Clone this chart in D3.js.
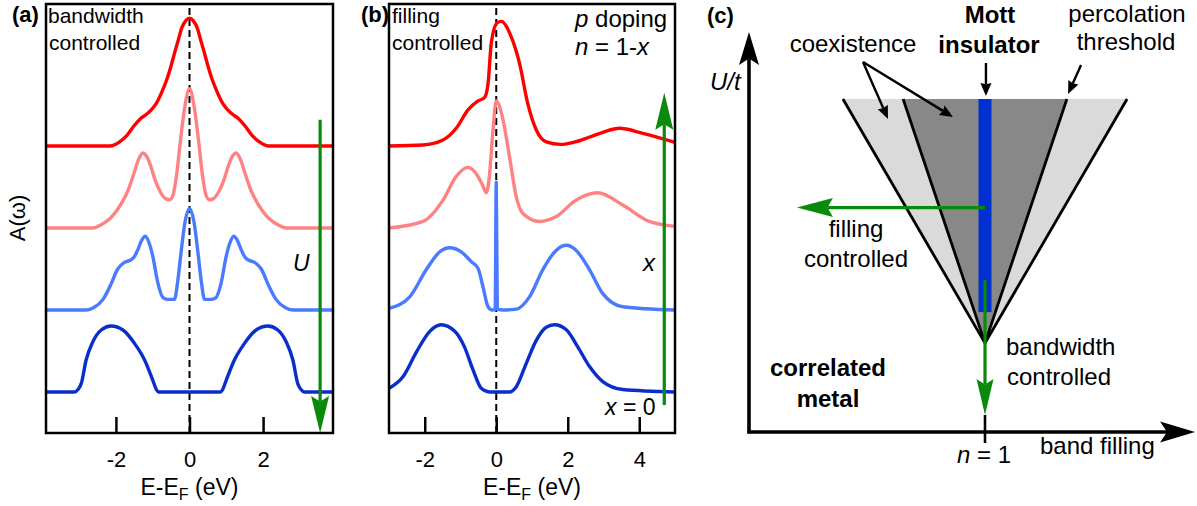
<!DOCTYPE html>
<html><head><meta charset="utf-8">
<script src="https://cdn.jsdelivr.net/npm/d3@7"></script>
<style>
body{margin:0;background:#fff}
svg{display:block}
text{font-family:"Liberation Sans",Arial,Helvetica,sans-serif;fill:#000}
</style>
</head><body>
<svg id="chart" width="1197" height="506"></svg>
<script>
// ---------------- DATA ----------------
const energyTicksA = [-2, 0, 2];
const energyTicksB = [-2, 0, 2, 4];
const spectrumOffsets = [3.5, 2.5, 1.5, 0.5];   // vertical stacking of the 4 spectra

// panel (a): bandwidth controlled, spectra [E (eV), A(ω)]
const aMetal = [[-3.9,0],[-2.15,0],[-1.9,0.05],[-1.7,0.13],[-1.5,0.25],[-1.34,0.33],[-1.16,0.39],[-1.0,0.46],[-0.89,0.53],[-0.75,0.66],[-0.61,0.82],[-0.5,0.98],[-0.39,1.16],[-0.3,1.3],[-0.21,1.44],[-0.1,1.53],[0,1.56],
  [0.1,1.53],[0.21,1.44],[0.3,1.3],[0.39,1.16],[0.5,0.98],[0.61,0.82],[0.75,0.66],[0.89,0.53],[1.0,0.46],[1.16,0.39],[1.34,0.33],[1.5,0.25],[1.7,0.13],[1.9,0.05],[2.15,0],[3.9,0]];
const aCorrelated = [[-3.9,0],[-2.63,0],[-2.4,0.04],[-2.2,0.1],[-2.08,0.155],[-1.85,0.3],[-1.67,0.46],[-1.5,0.68],[-1.38,0.84],[-1.27,0.915],[-1.16,0.87],[-1.05,0.75],[-0.93,0.58],[-0.78,0.43],[-0.64,0.355],[-0.54,0.345],[-0.45,0.4],[-0.35,0.65],[-0.25,1.05],[-0.12,1.5],[0,1.70],
  [0.12,1.5],[0.25,1.05],[0.35,0.65],[0.45,0.4],[0.54,0.345],[0.64,0.355],[0.78,0.43],[0.93,0.58],[1.05,0.75],[1.16,0.87],[1.27,0.915],[1.38,0.84],[1.5,0.68],[1.67,0.46],[1.85,0.3],[2.08,0.155],[2.2,0.1],[2.4,0.04],[2.63,0],[3.9,0]];
const aNearMott = [[-3.9,0],[-2.8,0],[-2.6,0.03],[-2.35,0.13],[-2.15,0.3],[-1.95,0.5],[-1.77,0.58],[-1.6,0.61],[-1.5,0.65],[-1.4,0.74],[-1.3,0.85],[-1.2,0.9],[-1.1,0.82],[-1.0,0.66],[-0.86,0.33],[-0.72,0.15],[-0.6,0.13],[-0.41,0.13],[-0.32,0.35],[-0.23,0.7],[-0.12,1.08],[0,1.24],
  [0.12,1.08],[0.23,0.7],[0.32,0.35],[0.41,0.13],[0.6,0.13],[0.72,0.15],[0.86,0.33],[1.0,0.66],[1.1,0.82],[1.2,0.9],[1.3,0.85],[1.4,0.74],[1.5,0.65],[1.6,0.61],[1.77,0.58],[1.95,0.5],[2.15,0.3],[2.35,0.13],[2.6,0.03],[2.8,0],[3.9,0]];
const aInsulator = [[-3.9,0],[-3.12,0],[-3.03,0.03],[-2.94,0.105],[-2.81,0.39],[-2.63,0.61],[-2.4,0.756],[-2.13,0.805],[-1.81,0.756],[-1.49,0.59],[-1.22,0.39],[-1.0,0.146],[-0.9,0.03],[-0.84,0],
  [0.84,0],[0.9,0.03],[1.0,0.146],[1.22,0.39],[1.49,0.59],[1.81,0.756],[2.13,0.805],[2.4,0.756],[2.63,0.61],[2.81,0.39],[2.94,0.105],[3.03,0.03],[3.12,0],[3.9,0]];

// panel (b): filling controlled (p doping)
const bDopedHigh = [[-3,0],[-2.05,0.012],[-1.49,0.073],[-1.12,0.216],[-0.79,0.44],[-0.51,0.55],[-0.33,0.59],[-0.23,0.76],[-0.14,1.25],[0.02,1.5],[0.14,1.52],[0.42,1.33],[0.65,1.01],[0.88,0.52],[1.12,0.195],[1.4,0.05],[1.8,0.02],[2.2,0.05],[2.61,0.11],[3.0,0.17],[3.44,0.216],[4.1,0.155],[5,0.045]];
const bDopedMid = [[-3,0],[-2.05,0.08],[-1.49,0.34],[-1.12,0.63],[-0.79,0.74],[-0.54,0.65],[-0.38,0.52],[-0.28,0.43],[-0.2,0.6],[-0.09,1.2],[0,1.55],[0.19,1.32],[0.37,0.87],[0.56,0.38],[0.74,0.18],[1.21,0.08],[1.68,0.14],[2.23,0.34],[2.84,0.43],[3.54,0.28],[4.28,0.08],[5,0.02]];
const bDopedLow = [[-3,0.02],[-2.42,0.16],[-1.96,0.49],[-1.58,0.71],[-1.3,0.76],[-0.98,0.71],[-0.7,0.59],[-0.51,0.51],[-0.37,0.28],[-0.23,0.04],[-0.11,0],[-0.03,0.01],[0,1.56],[0.03,0.01],[0.19,0],[0.56,0.01],[0.93,0.16],[1.3,0.49],[1.68,0.73],[1.96,0.79],[2.23,0.73],[2.61,0.49],[2.98,0.2],[3.54,0.04],[5,0]];
const bUndoped = [[-3,0.045],[-2.61,0.186],[-2.23,0.49],[-1.86,0.74],[-1.54,0.82],[-1.16,0.74],[-0.89,0.55],[-0.65,0.27],[-0.42,0.045],[-0.19,0],[0.37,0],[0.56,0.065],[0.84,0.35],[1.12,0.63],[1.4,0.79],[1.63,0.82],[1.96,0.76],[2.28,0.55],[2.61,0.31],[2.98,0.126],[3.54,0.03],[5,0]];

// panel (c): phase diagram in (band filling n, U/t) units
const phaseTopU = 1.0;
const apexU = 0.267;
const percolationHalfWidth = 0.602;
const coexistenceHalfWidth = 0.347;
const mottHalfWidth = 0.0275;
const mottBottomU = 0.36;

// ---------------- STYLES ----------------
const curveColors = ["#ff0000", "#ff8282", "#4a7bff", "#0a2ecc"];
const green = "#0a8a0a";
const svg = d3.select("#chart");
const FONT = '"Liberation Sans",Arial,Helvetica,sans-serif';

function drawArrow(g, p1, p2, o) {
  const [x1,y1] = p1, [x2,y2] = p2;
  const dx = x2-x1, dy = y2-y1, L = Math.hypot(dx,dy);
  const ux = dx/L, uy = dy/L, px = -uy, py = ux;
  const len = o.len, w = o.wid/2, notch = o.notch == null ? 0.15 : o.notch;
  const bx = x2-ux*len, by = y2-uy*len;
  const nx = x2-ux*len*(1-notch), ny = y2-uy*len*(1-notch);
  g.append("line").attr("x1",x1).attr("y1",y1).attr("x2",nx).attr("y2",ny)
    .attr("stroke",o.color).attr("stroke-width",o.sw);
  g.append("path")
    .attr("d",`M${x2},${y2}L${bx+px*w},${by+py*w}L${nx},${ny}L${bx-px*w},${by-py*w}Z`)
    .attr("fill",o.color);
}

function spectraPanel(xRange, xDomain, ticks, series, arrowSpec) {
  const x = d3.scaleLinear().domain(xDomain).range(xRange);
  const y = d3.scaleLinear().domain([0, 5.232]).range([433, 4]);
  const g = svg.append("g");
  g.append("line").attr("x1",x(0)).attr("x2",x(0)).attr("y1",y(0)).attr("y2",y(5.232))
    .attr("stroke","#000").attr("stroke-width",2).attr("stroke-dasharray","7,4");
  series.forEach((s, i) => {
    const off = spectrumOffsets[i];
    const line = d3.line().x(d => x(d[0])).y(d => y(d[1] + off)).curve(d3.curveMonotoneX);
    g.append("path").datum(s).attr("d", line).attr("fill","none")
      .attr("stroke", curveColors[i]).attr("stroke-width", 3.4).attr("stroke-linejoin","round");
  });
  const ax = g.append("g").attr("transform",`translate(0,${y(0)})`)
    .call(d3.axisBottom(x).tickValues(ticks).tickSizeInner(-16).tickSizeOuter(0).tickPadding(18).tickFormat(d => String(d)));
  ax.select(".domain").remove();
  ax.selectAll(".tick line").attr("stroke","#000").attr("stroke-width",2.5);
  ax.selectAll(".tick text").attr("font-family",FONT).attr("font-size",22).attr("fill","#000");
  g.append("rect").attr("x",xRange[0]).attr("y",y(5.232)).attr("width",xRange[1]-xRange[0]).attr("height",y(0)-y(5.232))
    .attr("fill","none").attr("stroke","#000").attr("stroke-width",2.5);
  drawArrow(g, [x(arrowSpec.e), y(arrowSpec.from)], [x(arrowSpec.e), y(arrowSpec.to)], {len:37, wid:18, color:green, sw:3.2});
  const t = g.append("text").attr("x",(xRange[0]+xRange[1])/2).attr("y",495).attr("text-anchor","middle").attr("font-size",23);
  t.append("tspan").text("E-E");
  t.append("tspan").attr("font-size",16).attr("dy",5).text("F");
  t.append("tspan").attr("dy",-5).text(" (eV)");
  return {g, x, y};
}

// ---------------- PANEL (a) ----------------
const A = spectraPanel([46,333], [-3.9,3.9], energyTicksA, [aMetal,aCorrelated,aNearMott,aInsulator], {e:3.55, from:3.82, to:0});
A.g.append("text").attr("x",12).attr("y",22).attr("font-size",22).attr("font-weight","bold").text("(a)");
A.g.append("text").attr("x",48).attr("y",23).attr("font-size",21).text("bandwidth");
A.g.append("text").attr("x",49).attr("y",50).attr("font-size",21).text("controlled");
A.g.append("text").attr("x",293).attr("y",271).attr("font-size",23).attr("font-style","italic").text("U");
A.g.append("text").attr("transform","translate(25,218) rotate(-90)").attr("text-anchor","middle").attr("font-size",22).text("A(ω)");

// ---------------- PANEL (b) ----------------
const B = spectraPanel([389,675], [-3,5], energyTicksB, [bDopedHigh,bDopedMid,bDopedLow,bUndoped], {e:4.7, from:0.34, to:4.15});
B.g.append("text").attr("x",361).attr("y",22).attr("font-size",22).attr("font-weight","bold").text("(b)");
B.g.append("text").attr("x",392).attr("y",23).attr("font-size",21).text("filling");
B.g.append("text").attr("x",392).attr("y",50).attr("font-size",21).text("controlled");
const pd = B.g.append("text").attr("x",575).attr("y",27).attr("font-size",24);
pd.append("tspan").attr("font-style","italic").text("p");
pd.append("tspan").text(" doping");
const nx1 = B.g.append("text").attr("x",575).attr("y",55).attr("font-size",24);
nx1.append("tspan").attr("font-style","italic").text("n");
nx1.append("tspan").text(" = 1-");
nx1.append("tspan").attr("font-style","italic").text("x");
B.g.append("text").attr("x",643).attr("y",271).attr("font-size",24).attr("font-style","italic").text("x");
const x0 = B.g.append("text").attr("x",605).attr("y",415).attr("font-size",23);
x0.append("tspan").attr("font-style","italic").text("x");
x0.append("tspan").text(" = 0");

// ---------------- PANEL (c) ----------------
const xC = d3.scaleLinear().domain([0,1]).range([749,985]);
const yC = d3.scaleLinear().domain([0,1]).range([432,99]);
const gc = svg.append("g");
const outer = [[1-percolationHalfWidth,phaseTopU],[1+percolationHalfWidth,phaseTopU],[1,apexU]];
const inner = [[1-coexistenceHalfWidth,phaseTopU],[1+coexistenceHalfWidth,phaseTopU],[1,apexU]];
const poly = pts => "M" + pts.map(p => `${xC(p[0])},${yC(p[1])}`).join("L") + "Z";
gc.append("path").attr("d",poly(outer)).attr("fill","#dadada");
gc.append("path").attr("d",poly(inner)).attr("fill","#888888");
[[1-percolationHalfWidth],[1+percolationHalfWidth],[1-coexistenceHalfWidth],[1+coexistenceHalfWidth]].forEach(d => {
  gc.append("line").attr("x1",xC(d[0])).attr("y1",yC(phaseTopU)).attr("x2",xC(1)).attr("y2",yC(apexU))
    .attr("stroke","#000").attr("stroke-width",2.8);
});
gc.append("rect").attr("x",xC(1-mottHalfWidth)).attr("y",yC(phaseTopU)).attr("width",xC(1+mottHalfWidth)-xC(1-mottHalfWidth))
  .attr("height",yC(mottBottomU)-yC(phaseTopU)).attr("fill","#0030d0");
// axes
drawArrow(gc, [xC(0), yC(0)+1.5], [xC(0), yC(1.201)], {len:33, wid:20, color:"#000", sw:3.6, notch:0.2});
drawArrow(gc, [xC(0)-1.5, yC(0)], [xC(1.89), yC(0)], {len:35, wid:21, color:"#000", sw:3.6, notch:0.2});
// n = 1 tick
gc.append("line").attr("x1",xC(1)).attr("x2",xC(1)).attr("y1",yC(0.051)).attr("y2",yC(-0.033)).attr("stroke","#000").attr("stroke-width",2.6);
// green arrows
drawArrow(gc, [xC(1), yC(0.674)], [xC(0.203), yC(0.674)], {len:36, wid:19, color:green, sw:3.2});
drawArrow(gc, [xC(1), yC(0.456)], [xC(1), yC(0.051)], {len:36, wid:17, color:green, sw:3.2});
// annotation arrows
const ann = [[[0.483,1.111],[0.589,0.940]],[[0.483,1.111],[0.864,0.946]],[[1.004,1.108],[1.004,1.009]],[[1.407,1.102],[1.352,1.015]]];
ann.forEach(a => drawArrow(gc, [xC(a[0][0]),yC(a[0][1])], [xC(a[1][0]),yC(a[1][1])], {len:13, wid:11, color:"#000", sw:2.4, notch:0.1}));
// texts
const tc = (x,y,s,opt={}) => {
  const t = gc.append("text").attr("x",x).attr("y",y).attr("font-size",opt.size||24).attr("text-anchor",opt.anchor||"middle");
  if (opt.bold) t.attr("font-weight","bold");
  if (opt.italic) t.attr("font-style","italic");
  t.text(s); return t;
};
tc(707,23,"(c)",{anchor:"start",bold:true,size:22});
tc(710,90,"U/t",{anchor:"start",italic:true});
tc(853,52,"coexistence");
tc(990,23,"Mott",{bold:true});
tc(989,53,"insulator",{bold:true});
tc(1127,22,"percolation");
tc(1126,50,"threshold");
tc(856,237,"filling");
tc(856,267,"controlled");
tc(1006,355,"bandwidth",{anchor:"start"});
tc(1007,385,"controlled",{anchor:"start"});
tc(828,376,"correlated",{bold:true});
tc(828,407,"metal",{bold:true});
const n1 = gc.append("text").attr("x",984).attr("y",463).attr("font-size",24).attr("text-anchor","middle");
n1.append("tspan").attr("font-style","italic").text("n");
n1.append("tspan").text(" = 1");
tc(1040,454,"band filling",{anchor:"start"});
</script>
</body></html>
